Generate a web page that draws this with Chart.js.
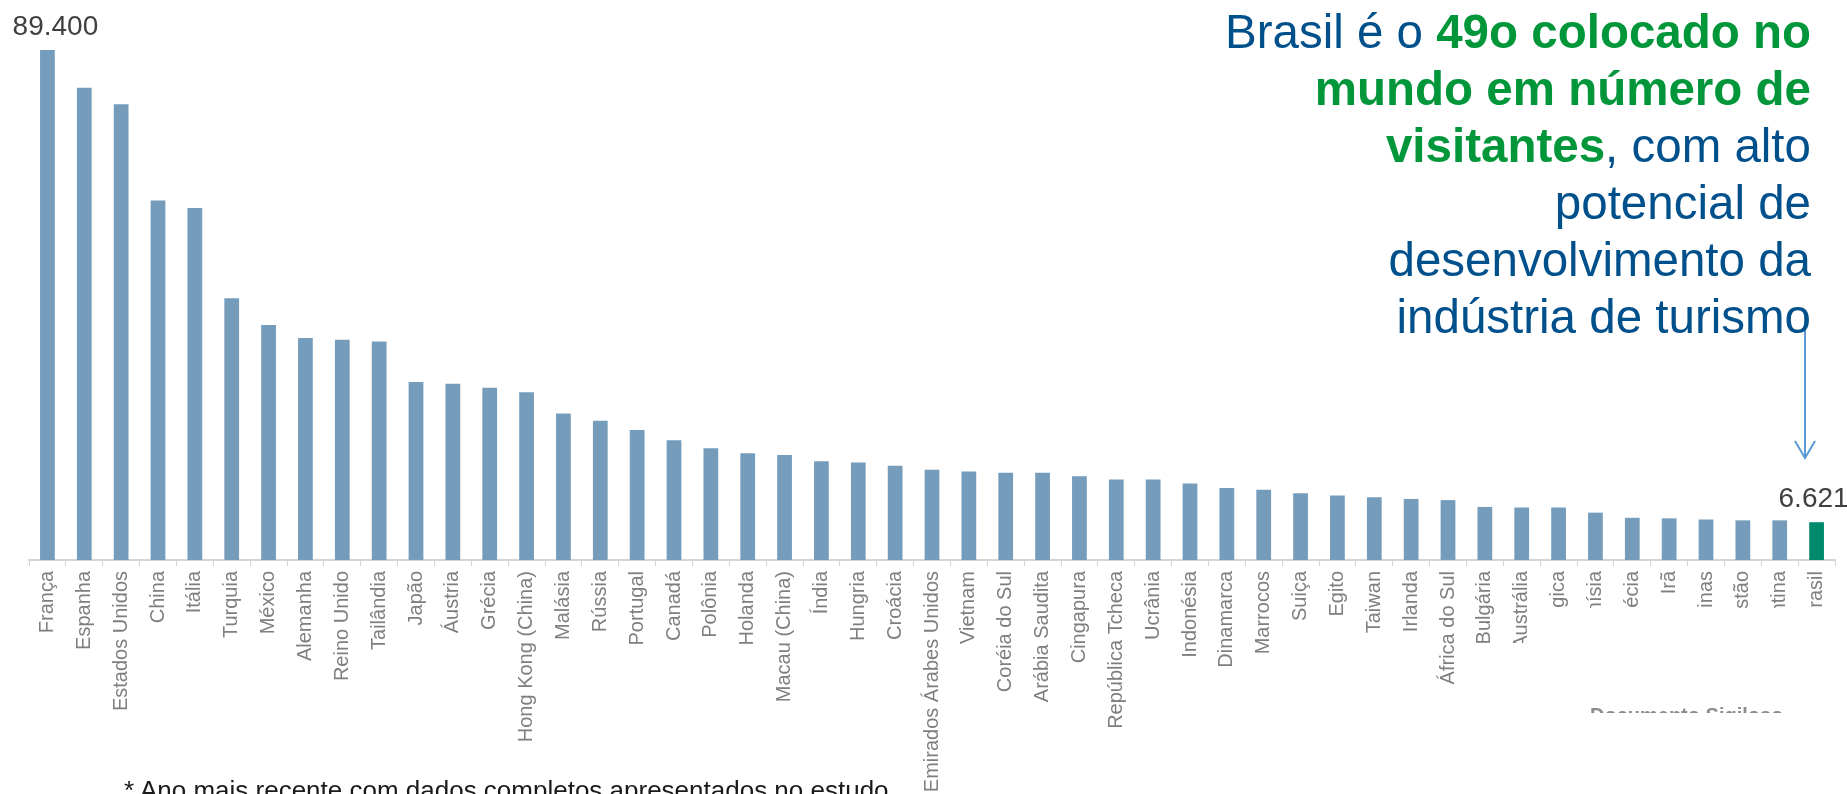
<!DOCTYPE html>
<html lang="pt-BR">
<head>
<meta charset="UTF-8">
<title>Chegadas de turistas internacionais</title>
<script src="https://cdn.jsdelivr.net/npm/chart.js@4.4.1/dist/chart.umd.min.js"></script>
<style>
  html, body { margin: 0; padding: 0; background: #fff; }
  #wrap { position: relative; width: 1847px; height: 794px; overflow: hidden; background: #fff; }
  #chart { position: absolute; left: 0; top: 0; }
  #destaque {
    position: absolute; right: 36px; top: 3px;
    text-align: right; white-space: nowrap;
    font-family: "Liberation Sans", Arial, sans-serif;
    font-size: 47.5px; line-height: 57px; color: #00508c;
  }
  #destaque b { color: #009639; }
  #nota {
    position: absolute; left: 124px; top: 775px;
    font-family: "Liberation Sans", Arial, sans-serif;
    font-size: 26px; line-height: 30px; color: #1a1a1a; white-space: nowrap;
  }
</style>
</head>
<body>
<div id="wrap">
  <canvas id="chart" width="1847" height="794"></canvas>
  <div id="destaque">Brasil é o <b>49o colocado no</b><br><b>mundo em número de</b><br><b>visitantes</b>, com alto<br>potencial de<br>desenvolvimento da<br>indústria de turismo</div>
  <div id="nota">* Ano mais recente com dados completos apresentados no estudo</div>
</div>
<script>
// países (ordem do ranking)
const paises = [
  "França", "Espanha", "Estados Unidos", "China", "Itália", "Turquia", "México",
  "Alemanha", "Reino Unido", "Tailândia", "Japão", "Áustria", "Grécia",
  "Hong Kong (China)", "Malásia", "Rússia", "Portugal", "Canadá", "Polônia",
  "Holanda", "Macau (China)", "Índia", "Hungria", "Croácia", "Emirados Árabes Unidos",
  "Vietnam", "Coréia do Sul", "Arábia Saudita", "Cingapura", "República Tcheca",
  "Ucrânia", "Indonésia", "Dinamarca", "Marrocos", "Suiça", "Egito", "Taiwan",
  "Irlanda", "África do Sul", "Bulgária", "Austrália", "Bélgica", "Tunísia",
  "Suécia", "Irã", "Filipinas", "Cazaquistão", "Argentina", "Brasil"
];

// chegadas de turistas (mil)
const visitantes = [
  89400, 82800, 79900, 63000, 61700, 45900, 41200,
  38900, 38600, 38300, 31200, 30900, 30200,
  29400, 25700, 24400, 22800, 21000, 19600,
  18700, 18400, 17300, 17100, 16500, 15800,
  15500, 15300, 15300, 14700, 14100,
  14100, 13400, 12600, 12300, 11700, 11300, 11000,
  10700, 10500, 9300, 9200, 9200, 8300,
  7400, 7300, 7100, 6950, 6950, 6621
];

// só o primeiro e o Brasil levam rótulo
const rotulados = ["França", "Brasil"];

const corBarra = "#759cbb";
const corBrasil = "#008a6c";

function milhar(v) {
  return String(Math.round(v)).replace(/\B(?=(\d{3})+(?!\d))/g, ".");
}

// rótulos, caixas brancas por cima dos nomes e a seta
const extras = {
  id: "extras",
  afterDraw(chart) {
    const ctx = chart.ctx;
    const meta = chart.getDatasetMeta(0);

    ctx.save();
    ctx.font = '28px "Liberation Sans", Arial, sans-serif';
    ctx.fillStyle = "#404040";
    ctx.textAlign = "center";
    ctx.textBaseline = "alphabetic";
    rotulados.forEach((nome) => {
      const i = paises.indexOf(nome);
      const bar = meta.data[i];
      const dx = i === 0 ? 8 : -3;
      ctx.fillText(milhar(visitantes[i]), bar.x + dx, bar.y - 15);
    });

    // caixa de texto do slide tapa parte dos nomes
    ctx.fillStyle = "#ffffff";
    ctx.fillRect(1538, 608, 309, 186);
    ctx.fillRect(1500, 643, 38, 151);

    // resto de um texto escondido
    ctx.save();
    ctx.beginPath();
    ctx.rect(1585, 707, 215, 6);
    ctx.clip();
    ctx.font = 'bold 20px "Liberation Sans", Arial, sans-serif';
    ctx.fillStyle = "#8c8c8c";
    ctx.textAlign = "left";
    ctx.fillText("Documento Sigiloso", 1590, 722);
    ctx.restore();

    // seta apontando para o Brasil
    ctx.strokeStyle = "#5b9bd5";
    ctx.lineWidth = 2;
    ctx.beginPath();
    ctx.moveTo(1805, 312);
    ctx.lineTo(1805, 458);
    ctx.moveTo(1795, 441);
    ctx.lineTo(1805, 458);
    ctx.lineTo(1815, 441);
    ctx.stroke();
    ctx.restore();
  },
};

new Chart(document.getElementById("chart").getContext("2d"), {
  type: "bar",
  data: {
    labels: paises,
    datasets: [
      {
        data: visitantes,
        backgroundColor: paises.map((p) => (p === "Brasil" ? corBrasil : corBarra)),
        barPercentage: 0.4,
        categoryPercentage: 1,
      },
    ],
  },
  options: {
    responsive: false,
    animation: false,
    layout: { padding: { top: 50, left: 29, right: 12, bottom: 0 } },
    plugins: {
      legend: { display: false },
      tooltip: { enabled: false },
    },
    scales: {
      x: {
        offset: true,
        grid: {
          display: true,
          offset: true,
          drawOnChartArea: false,
          drawTicks: true,
          tickLength: 6,
          color: "#d4d4d4",
        },
        border: { display: true, color: "#d4d4d4", width: 2 },
        ticks: {
          autoSkip: false,
          maxRotation: 90,
          minRotation: 90,
          padding: 5,
          color: "#7f7f7f",
          font: { family: '"Liberation Sans", Arial, sans-serif', size: 20 },
        },
        afterFit(scale) {
          scale.height = 234;
        },
      },
      y: {
        display: false,
        min: 0,
        max: 89400,
      },
    },
  },
  plugins: [extras],
});
</script>
</body>
</html>
